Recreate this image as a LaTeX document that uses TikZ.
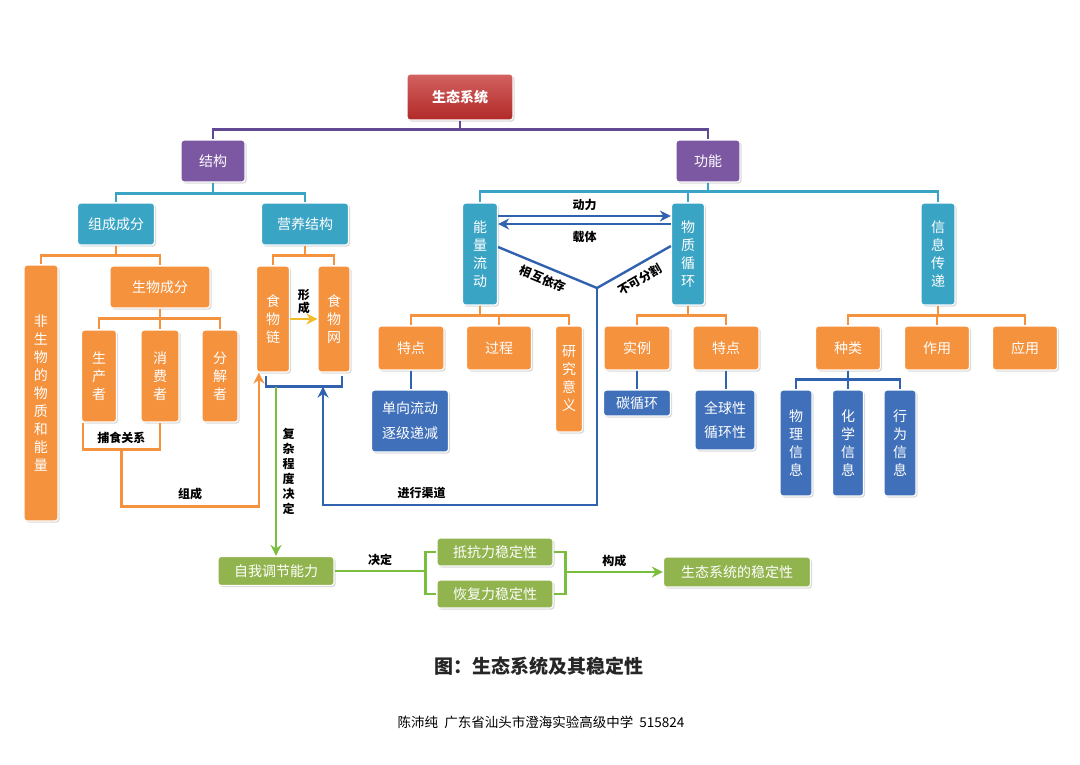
\documentclass[tikz,border=0pt]{standalone}
\usepackage{fontspec}
\setmainfont{Noto Sans CJK SC}
\usepackage{xcolor}
\usepackage{tikz}
\usetikzlibrary{shadows,arrows.meta}
\definecolor{ecored}{RGB}{196,46,44}
\definecolor{ecopurple}{RGB}{124,88,162}
\definecolor{ecoteal}{RGB}{58,164,196}
\definecolor{ecoorange}{RGB}{245,146,62}
\definecolor{ecoblue}{RGB}{64,112,186}
\definecolor{ecogreen}{RGB}{146,180,78}
\definecolor{linepurple}{RGB}{96,72,146}
\definecolor{lineblue}{RGB}{48,98,176}
\definecolor{linegreen}{RGB}{122,190,62}
\definecolor{lineyellow}{RGB}{242,188,40}

\tikzset{
  box/.style={rounded corners=3pt, draw=white, line width=1.2pt, inner sep=0pt, align=center,
    text=white, font=\fontsize{14}{18}\selectfont,
    drop shadow={shadow xshift=1.5pt, shadow yshift=-1.5pt, opacity=0.3}},
  wh/.style 2 args={minimum width=#1pt, minimum height=#2pt},
  redbox/.style={box, top color=ecored!75!white, bottom color=ecored!90!black},
  purplebox/.style={box, fill=ecopurple},
  tealbox/.style={box, fill=ecoteal},
  orangebox/.style={box, fill=ecoorange},
  bluebox/.style={box, fill=ecoblue},
  greenbox/.style={box, fill=ecogreen},
  link/.style={line width=2.4pt},
  purpleline/.style={link, draw=linepurple},
  tealline/.style={link, draw=ecoteal},
  orangeline/.style={link, draw=ecoorange},
  blueline/.style={link, draw=lineblue},
  greenline/.style={link, draw=linegreen},
  tag/.style={font=\fontsize{12}{15}\selectfont\bfseries, text=black, align=center},
}

\begin{document}
\begin{tikzpicture}[x=1pt, y=-1pt, >={Stealth[length=11pt,width=11pt]}]
\useasboundingbox[fill=white] (0,0) rectangle (1080,764);

% top levels
\node[redbox, wh={106}{46}] (eco) at (460,97) {\bfseries 生态系统};
\node[purplebox, wh={64}{42}] (struct) at (213,161) {结构};
\node[purplebox, wh={64}{42}] (func) at (708,161) {功能};

\draw[purpleline] (eco.south) -- ++(0,9) -| (struct.north);
\draw[purpleline] (eco.south) -- ++(0,9) -| (func.north);

% structure side
\node[tealbox, wh={77}{42}] (comp) at (116,224) {组成成分};
\node[tealbox, wh={87}{42}] (troph) at (305,224) {营养结构};
\draw[tealline] (struct.south) -- ++(0,11) -| (comp.north);
\draw[tealline] (struct.south) -- ++(0,11) -| (troph.north);

\node[orangebox, wh={34}{256}] (abiotic) at (41,393) {非\\生\\物\\的\\物\\质\\和\\能\\量};
\node[orangebox, wh={100}{42}] (biotic) at (160,287) {生物成分};
\draw[orangeline] (comp.south) -- ++(0,10) -| (abiotic.north);
\draw[orangeline] (comp.south) -- ++(0,10) -| (biotic.north);

\node[orangebox, wh={35}{92}] (prod) at (99,376) {生\\产\\者};
\node[orangebox, wh={38}{92}] (cons) at (160,376) {消\\费\\者};
\node[orangebox, wh={36}{92}] (decomp) at (220,376) {分\\解\\者};
\draw[orangeline] (biotic.south) -- ++(0,10) -| (prod.north);
\draw[orangeline] (biotic.south) -- ++(0,10) -| (cons.north);
\draw[orangeline] (biotic.south) -- ++(0,10) -| (decomp.north);

\node[orangebox, wh={33}{106}] (chain) at (273,319) {食\\物\\链};
\node[orangebox, wh={32}{106}] (web) at (334,319) {食\\物\\网};
\draw[orangeline] (troph.south) -- ++(0,10) -| (chain.north);
\draw[orangeline] (troph.south) -- ++(0,10) -| (web.north);
\draw[link, draw=lineyellow, ->] (chain.east) -- node[tag, above=1pt, font=\fontsize{12}{13}\selectfont\bfseries] {形\\成} (web.west);

% predation bracket
\draw[orangeline] ([xshift=2pt]prod.south west) -- ++(0,27) coordinate (pa)
  -| coordinate[pos=0.25] (pmid) node[tag, pos=0.25, above=1pt] {捕食关系} (cons.south);
\draw[orangeline, ->] (pmid) -- ++(0,57) -| node[tag, pos=0.25, above=2pt] {组成} ([xshift=3pt]chain.south west);

% under chain and web
\draw[blueline] ([shift={(-7pt,-3pt)}]chain.south) -- ++(0,11) coordinate (bl) -| ([shift={(8pt,-3pt)}]web.south);

% function side
\node[tealbox, wh={35}{102}] (energy) at (480,254) {能\\量\\流\\动};
\node[tealbox, wh={33}{102}] (matter) at (688,254) {物\\质\\循\\环};
\node[tealbox, wh={34}{102}] (info) at (938,254) {信\\息\\传\\递};
\draw[tealline] (func.south) -- ++(0,9) -| (energy.north);
\draw[tealline] (func.south) -- ++(0,9) -| (matter.north);
\draw[tealline] (func.south) -- ++(0,9) -| (info.north);

\draw[blueline, ->] ([yshift=38pt]energy.east) -- node[tag, above=1pt] {动力} ([yshift=38pt]matter.west);
\draw[blueline, ->] ([yshift=30pt]matter.west) -- node[tag, below=3pt] {载体} ([yshift=30pt]energy.east);

\coordinate (yj) at (597,288);
\draw[blueline] ([yshift=7pt]energy.east) -- node[tag, sloped, below=2pt] {相互依存} (yj);
\draw[blueline] (yj) -- ([yshift=8pt]matter.west);
\node[tag, rotate=30] (cut) at (640,280) {不可分割};
\coordinate (wb) at ([xshift=-11pt]web.south);
\draw[blueline, ->] (yj) -- ++(0,217) -| node[tag, pos=0.32, above=2pt] {进行渠道} (wb |- bl);

% energy flow
\node[orangebox, wh={66}{44}] (efeat) at (411,348) {特点};
\node[orangebox, wh={65}{44}] (eproc) at (499,348) {过程};
\node[orangebox, wh={27}{106}] (esig) at (569,379) {研\\究\\意\\义};
\draw[orangeline] (energy.south) -- ++(0,10) -| (efeat.north);
\draw[orangeline] (energy.south) -- ++(0,10) -| (eproc.north);
\draw[orangeline] (energy.south) -- ++(0,10) -| (esig.north);
\node[bluebox, wh={77}{62}, font=\fontsize{14}{25}\selectfont] (oneway) at (410,421) {单向流动\\逐级递减};
\draw[blueline] (efeat.south) -- (efeat.south |- oneway.north);

% matter cycle
\node[orangebox, wh={66}{44}] (mex) at (637,348) {实例};
\node[orangebox, wh={66}{44}] (mfeat) at (726,348) {特点};
\draw[orangeline] (matter.south) -- ++(0,10) -| (mex.north);
\draw[orangeline] (matter.south) -- ++(0,10) -| (mfeat.north);
\node[bluebox, wh={67}{26}] (carbon) at (637,403) {碳循环};
\node[bluebox, wh={60}{60}, font=\fontsize{14}{24}\selectfont] (global) at (725,420) {全球性\\循环性};
\draw[blueline] (mex.south) -- (carbon.north);
\draw[blueline] (mfeat.south) -- (mfeat.south |- global.north);

% information
\node[orangebox, wh={65}{44}] (ikind) at (848,348) {种类};
\node[orangebox, wh={65}{44}] (irole) at (937,348) {作用};
\node[orangebox, wh={65}{44}] (iuse) at (1025,348) {应用};
\draw[orangeline] (info.south) -- ++(0,10) -| (ikind.north);
\draw[orangeline] (info.south) -- ++(0,10) -| (irole.north);
\draw[orangeline] (info.south) -- ++(0,10) -| (iuse.north);
\node[bluebox, wh={32}{106}] (phys) at (796,443) {物\\理\\信\\息};
\node[bluebox, wh={31}{106}] (chem) at (848,443) {化\\学\\信\\息};
\node[bluebox, wh={32}{106}] (behav) at (900,443) {行\\为\\信\\息};
\draw[blueline] (ikind.south) -- ++(0,9) -| (phys.north);
\draw[blueline] (ikind.south) -- ++(0,9) -| (chem.north);
\draw[blueline] (ikind.south) -- ++(0,9) -| (behav.north);

% stability
\node[greenbox, wh={116}{29}] (selfreg) at (276,571) {自我调节能力};
\node[greenbox, wh={116}{28}] (resist) at (495,552) {抵抗力稳定性};
\node[greenbox, wh={116}{28}] (recover) at (495,594) {恢复力稳定性};
\node[greenbox, wh={147}{30}] (stable) at (737,572) {生态系统的稳定性};
\draw[greenline, ->] (selfreg.north |- bl) -- node[tag, right=2pt, font=\fontsize{12}{15}\selectfont\bfseries] {复\\杂\\程\\度\\决\\定} (selfreg.north);
\draw[greenline] (resist.west) -- ++(-11,0) coordinate (lt) -- (lt |- recover.west) -- (recover.west);
\draw[greenline] (selfreg.east) -- node[tag, above=1pt] {决定} (lt |- selfreg.east);
\draw[greenline] (resist.east) -- ++(12,0) coordinate (rt) -- (rt |- recover.east) -- (recover.east);
\draw[greenline, ->] (rt |- stable.west) -- node[tag, above=1pt] {构成} (stable.west);

% caption
\node[font=\fontsize{19}{22}\selectfont\bfseries, text=black!85] (title) at (539,666) {图：生态系统及其稳定性};
\node[font=\fontsize{13.5}{16}\selectfont, text=black] (author) at (541,722) {陈沛纯\ \ 广东省汕头市澄海实验高级中学\ \ 515824};
\end{tikzpicture}
\end{document}
